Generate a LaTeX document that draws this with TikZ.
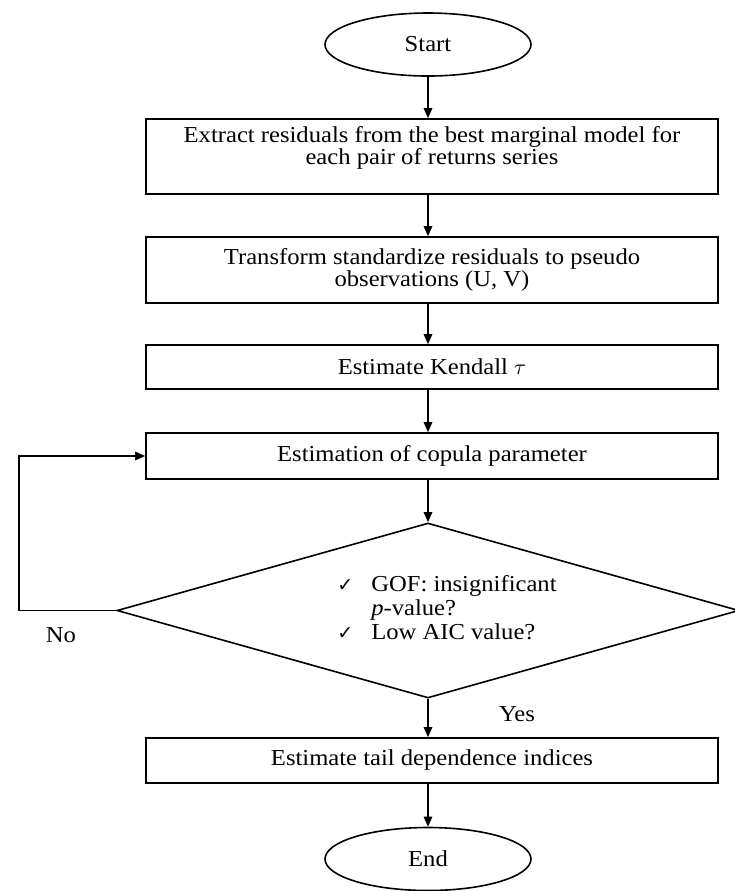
\documentclass[tikz,border=0pt]{standalone}
\usepackage{fontspec}
\setmainfont{Liberation Serif}[FakeStretch=1.08]
\newfontfamily\symfont{DejaVu Sans}
\usepackage{tikz}
\usetikzlibrary{arrows.meta, positioning, shapes.geometric}

\begin{document}
\begin{tikzpicture}[x=0.5pt, y=-0.5pt, line width=0.8pt,
    every node/.style={font=\fontsize{11.4}{11}\selectfont},
    terminal/.style={draw, ellipse, minimum width=103pt, minimum height=31.5pt, inner sep=0pt},
    stage/.style={draw, rectangle, minimum width=286pt, align=center, inner sep=0pt},
    decision/.style={draw, diamond, minimum width=311pt, minimum height=87.5pt, inner sep=0pt},
    arr/.style={-{Triangle[length=5pt,width=4.2pt]}}]
  \useasboundingbox (0,0) rectangle (735,891);
  \node[terminal] (start) at (428,44.5) {Start};
  \node[stage, minimum height=37.5pt] (extract) at (432,156.5) {Extract residuals from the best marginal model for\\each pair of returns series\\\mbox{}};
  \node[stage, minimum height=33pt] (transform) at (432,270) {Transform standardize residuals to pseudo\\observations (U, V)};
  \node[stage, minimum height=22pt] (kendall) at (432,367) {Estimate Kendall $\tau$};
  \node[stage, minimum height=23pt] (copula) at (432,456) {Estimation of copula parameter};
  \node[decision] (gof) at (428,610.5) {};
  \node (crit) at (447,611) {\fontsize{11.4}{12}\selectfont
    \begin{tabular}{@{}l@{\hspace{9pt}}l@{}}
    {\symfont\fontsize{9.5}{10}\selectfont ✓} & GOF: insignificant\\
    & \textit{p}-value?\\
    {\symfont\fontsize{9.5}{10}\selectfont ✓} & Low AIC value?
  \end{tabular}};
  \node[stage, minimum height=22.5pt] (tail) at (432,760.5) {Estimate tail dependence indices};
  \node[terminal] (end) at (428,859) {End};
  \coordinate (back) at (19,610.5);
  \node (no) at (61,635) {No};
  \node (yes) at (517,714) {Yes};
  \draw[arr] (start) -- (extract.north -| start);
  \draw[arr] (extract.south -| start) -- (transform.north -| start);
  \draw[arr] (transform.south -| start) -- (kendall.north -| start);
  \draw[arr] (kendall.south -| start) -- (copula.north -| start);
  \draw[arr] (copula.south -| gof) -- (gof.north);
  \draw[arr] (gof.south) -- (tail.north -| gof);
  \draw[arr] (tail.south -| end) -- (end);
  \draw[arr] (gof.west) -- (back) |- (copula.west);
\end{tikzpicture}
\end{document}
